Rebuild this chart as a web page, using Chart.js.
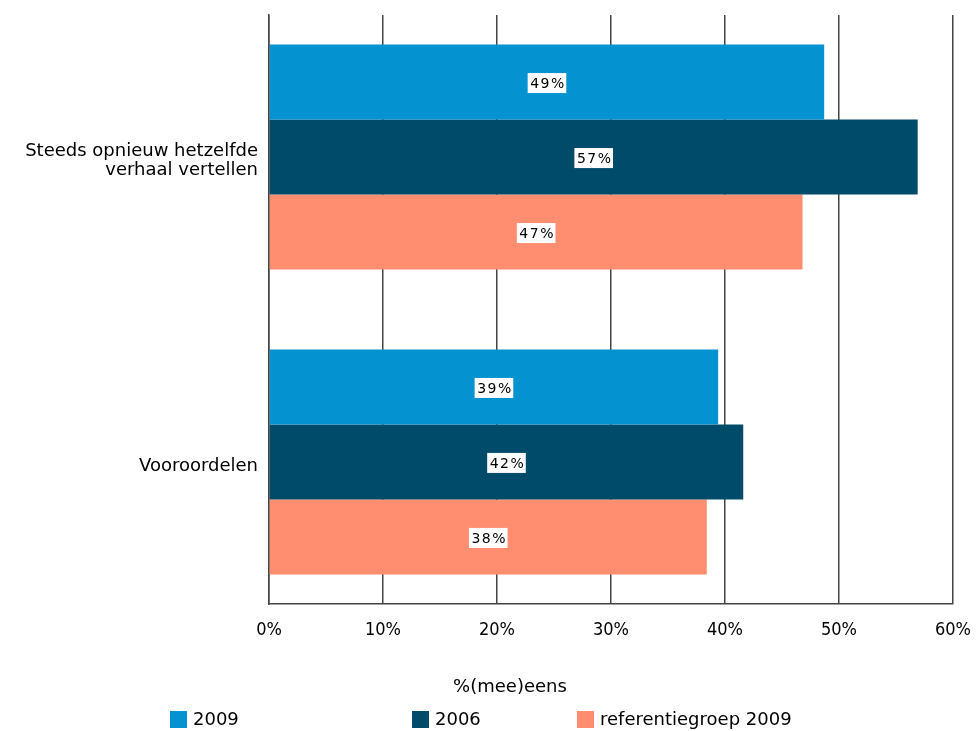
<!DOCTYPE html>
<html>
<head>
<meta charset="utf-8">
<script src="https://cdn.jsdelivr.net/npm/chart.js@4.4.0/dist/chart.umd.min.js"></script>
<style>
  html, body { margin: 0; padding: 0; background: #fff; overflow: hidden; }
  canvas { display: block; }
</style>
</head>
<body>
<canvas id="barChart" width="977" height="731"></canvas>
<script>
var categories = [["Steeds opnieuw hetzelfde", "verhaal vertellen"], "Vooroordelen"];
var seriesNames = ["2009", "2006", "referentiegroep 2009"];
var values2009 = [48.7, 39.4];
var values2006 = [56.9, 41.6];
var valuesRef2009 = [46.8, 38.4];
var seriesColors = ["#0492d0", "#004a6a", "#ff8e71"];
var xTicks = [0, 10, 20, 30, 40, 50, 60];
var axisTitle = "%(mee)eens";

var FONT = "'DejaVu Sans', Verdana, sans-serif";
var GROUP_PAD = 0.466; // space above the first and below the last group, in category steps

// white boxed value labels in the middle of each bar
var valueLabels = {
  id: 'valueLabels',
  afterDatasetsDraw: function(chart) {
    var ctx = chart.ctx;
    ctx.save();
    ctx.font = "14px " + FONT;
    ctx.letterSpacing = "1.5px";
    ctx.textAlign = "center";
    ctx.textBaseline = "middle";
    chart.data.datasets.forEach(function(ds, i) {
      chart.getDatasetMeta(i).data.forEach(function(bar, j) {
        var txt = Math.round(ds.data[j]) + "%";
        var cx = (bar.x + bar.base) / 2;
        var w = ctx.measureText(txt).width + 3;
        ctx.fillStyle = "#fff";
        ctx.fillRect(cx - w / 2, bar.y - 9, w, 20);
        ctx.fillStyle = "#000";
        ctx.fillText(txt, cx + 1, bar.y + 2);
      });
    });
    ctx.restore();
  }
};

// axis title and legend row under the plot
var bottomText = {
  id: 'bottomText',
  afterDraw: function(chart) {
    var ctx = chart.ctx;
    ctx.save();
    ctx.font = "18px " + FONT;
    ctx.fillStyle = "#000";
    ctx.textBaseline = "middle";
    ctx.textAlign = "center";
    ctx.fillText(axisTitle, 510, 687);
    ctx.textAlign = "left";
    var legendX = [170, 412, 577];
    chart.data.datasets.forEach(function(ds, i) {
      ctx.fillStyle = ds.backgroundColor;
      ctx.fillRect(legendX[i], 711, 17, 17);
      ctx.fillStyle = "#000";
      ctx.fillText(ds.label, legendX[i] + 23, 720);
    });
    ctx.restore();
  }
};

var ctxB = document.getElementById("barChart").getContext('2d');
var myBarChart = new Chart(ctxB, {
  type: 'bar',
  data: {
    labels: categories,
    datasets: [{
      label: seriesNames[0],
      data: values2009,
      backgroundColor: seriesColors[0]
    }, {
      label: seriesNames[1],
      data: values2006,
      backgroundColor: seriesColors[1]
    }, {
      label: seriesNames[2],
      data: valuesRef2009,
      backgroundColor: seriesColors[2]
    }]
  },
  options: {
    indexAxis: 'y',
    responsive: false,
    animation: false,
    layout: { padding: { top: 15, right: 24, left: 0, bottom: 0 } },
    datasets: {
      bar: { categoryPercentage: 0.738, barPercentage: 1.0 }
    },
    plugins: {
      legend: { display: false },
      tooltip: { enabled: false }
    },
    scales: {
      x: {
        min: 0,
        max: 60,
        afterBuildTicks: function(axis) {
          axis.ticks = xTicks.map(function(v) { return { value: v }; });
        },
        afterFit: function(axis) {
          axis.height = 127;
          axis.paddingLeft = 0;
          axis.paddingRight = 0;
        },
        grid: { color: '#444', lineWidth: 1.5, drawTicks: false },
        border: { color: '#444', width: 1.5 },
        ticks: {
          padding: 16,
          color: '#000',
          font: { family: "'DejaVu Sans Condensed', 'DejaVu Sans', sans-serif", size: 18 },
          callback: function(v) { return v + '%'; }
        }
      },
      y: {
        offset: false,
        // groups sit a little wider apart than the default half-step offset
        afterBuildTicks: function(axis) {
          axis.ticks = categories.map(function(c, i) { return { value: i }; });
          axis._startValue = -GROUP_PAD;
          axis._valueRange = categories.length - 1 + 2 * GROUP_PAD;
        },
        afterFit: function(axis) {
          axis.width = 269;
          axis.paddingTop = 0;
          axis.paddingBottom = 0;
        },
        grid: { display: false, drawTicks: false },
        border: { color: '#444', width: 1.5 },
        ticks: {
          padding: 11,
          labelOffset: 4,
          color: '#000',
          font: { family: FONT, size: 18, lineHeight: 1.05 }
        }
      }
    }
  },
  plugins: [valueLabels, bottomText]
});
</script>
</body>
</html>
